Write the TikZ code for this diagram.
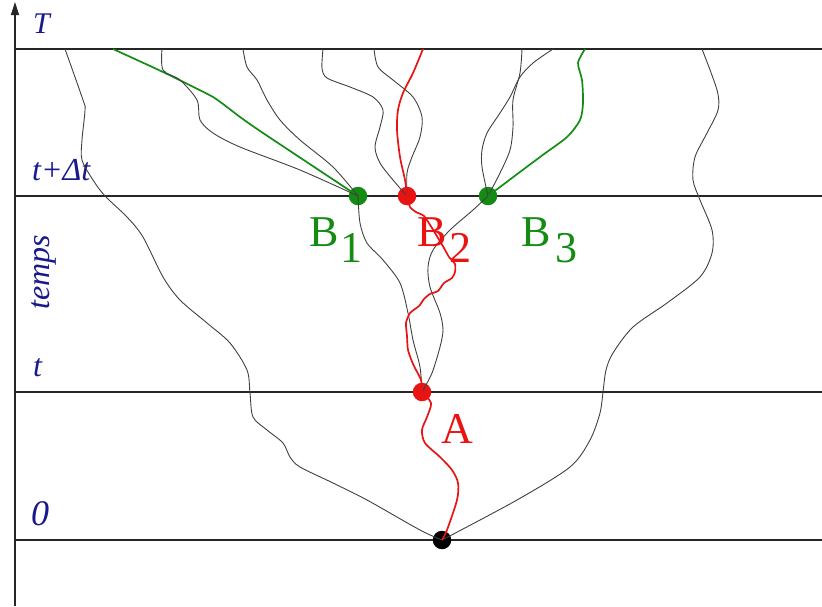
\documentclass[tikz,border=0pt]{standalone}
\usepackage{fontspec}
\setmainfont{Liberation Serif}
\usetikzlibrary{arrows.meta}
\definecolor{axblue}{RGB}{25,25,140}
\definecolor{dgreen}{RGB}{20,140,20}
\definecolor{dred}{RGB}{232,20,20}
\begin{document}
\begin{tikzpicture}[x=1pt,y=-1pt,
  level/.style={draw=black!85,line width=1.2pt},
  walk/.style={draw=black!75,line width=0.9pt},
  redwalk/.style={draw=dred,line width=1.7pt},
  greenwalk/.style={draw=dgreen,line width=1.7pt},
  dot/.style={circle,inner sep=0pt,minimum size=18.5pt},
  axlabel/.style={text=axblue,font=\fontsize{32}{36}\selectfont\itshape,inner sep=0pt,anchor=base west},
  ptlabel/.style={font=\fontsize{44}{50}\selectfont,inner sep=0pt,anchor=base west}]
\useasboundingbox (0,0) rectangle (822,606);

% axis
\coordinate (axB) at (15,606);
\coordinate (axT) at (15,2);
\draw[level,-{Triangle[length=13pt,width=8pt]}] (axB) -- (axT);

% levels
\foreach \yy/\nm in {49/LT,196/LD,392/Lt,540/LO}{
  \coordinate (\nm w) at (15,\yy);
  \coordinate (\nm e) at (822,\yy);
  \draw[level] (\nm w) -- (\nm e);
}

% axis labels
\node[axlabel,font=\fontsize{30}{34}\selectfont\itshape] (lT) at (33,33) {T};
\node[axlabel,font=\fontsize{32}{36}\selectfont\itshape] (lD) at (32,180) {t+Δt};
\node[axlabel,anchor=base,rotate=90] (ltemps) at (49,272) {temps};
\node[axlabel] (lt) at (33,376) {t};
\node[axlabel,font=\fontsize{36}{40}\selectfont\itshape] (l0) at (31,525) {0};

% points
\node[dot,fill=black] (O) at (442,540) {};
\node[dot,fill=dred] (A) at (422,392) {};
\node[dot,fill=dgreen] (B1) at (358,196) {};
\node[dot,fill=dred] (B2) at (407,196) {};
\node[dot,fill=dgreen] (B3) at (488,196) {};

% walks from O
\draw[walk] plot[smooth] coordinates {(O.center) (420,530) (367,500) (333,483) (300,467) (290,457) (283,443) (267,430) (253,417) (250,393) (247,370) (230,343) (207,323) (180,300) (163,277) (143,237) (127,217) (105,196) (93,180) (82,160) (82,140) (85,110) (83,100) (65,49)};
\draw[walk] plot[smooth] coordinates {(O.center) (517,500) (570,467) (590,440) (600,413) (603,392) (606,370) (613,353) (633,327) (667,303) (700,277) (712,253) (712,230) (700,200) (693,180) (695,157) (707,133) (718,110) (717,90) (702,49)};
\draw[redwalk] plot[smooth] coordinates {(O.center) (447,530) (457,500) (458,483) (452,470) (440,457) (425,443) (422,430) (427,417) (431,403) (A.center)};

% walks from A
\draw[walk] plot[smooth] coordinates {(A.center) (420,367) (413,340) (408,313) (400,283) (383,260) (367,243) (360,223) (B1.center)};
\draw[walk] plot[smooth] coordinates {(A.center) (432,373) (440,347) (443,330) (440,313) (430,287) (428,267) (433,250) (450,230) (473,210) (B3.center)};
\draw[redwalk] plot[smooth,tension=0.4] coordinates {(A.center) (421,380) (413,364) (408,350) (407,336) (406,323) (410,313) (419,306) (424,299) (430,294) (438,291) (444,283) (452,278) (455,272) (455,264) (449,257) (444,248) (438,238) (432,228) (424,216) (416,212) (410,207) (B2.center)};

% walks from B1
\draw[greenwalk] plot[smooth,tension=0.3] coordinates {(B1.center) (263,133) (240,117) (213,97) (163,72) (113,49)};
\draw[walk] plot[smooth] coordinates {(B1.center) (300,170) (240,147) (213,133) (200,120) (197,100) (180,80) (163,70) (162,49)};
\draw[walk] plot[smooth] coordinates {(B1.center) (333,167) (300,140) (280,120) (267,100) (257,80) (247,67) (243,49)};

% walks from B2
\draw[walk] plot[smooth] coordinates {(B2.center) (393,180) (380,163) (375,147) (380,127) (383,110) (373,97) (350,87) (327,78) (322,68) (323,49)};
\draw[walk] plot[smooth] coordinates {(B2.center) (407,173) (412,157) (420,137) (422,117) (413,97) (393,80) (378,67) (374,49)};
\draw[redwalk] plot[smooth] coordinates {(B2.center) (405,180) (400,157) (397,130) (398,110) (403,93) (413,73) (423,49)};

% walks from B3
\draw[walk] plot[smooth] coordinates {(B3.center) (500,173) (510,150) (513,127) (513,100) (520,73) (522,49)};
\draw[walk] plot[smooth] coordinates {(B3.center) (482,167) (482,150) (487,133) (500,113) (510,97) (520,77) (533,63) (553,49)};
\draw[greenwalk] plot[smooth,tension=0.45] coordinates {(B3.center) (540,157) (567,137) (580,120) (583,103) (582,80) (578,63) (585,49)};

% point labels
\node[ptlabel,text=dgreen] (tB1) at (309,246) {B\kern2pt\raisebox{-16pt}{1}};
\node[ptlabel,text=dred] (tB2) at (417,246) {B\kern3pt\raisebox{-16pt}{2}};
\node[ptlabel,text=dgreen] (tB3) at (521,246) {B\kern5pt\raisebox{-16pt}{3}};
\node[ptlabel,text=dred] (tA) at (441,443) {A};
\end{tikzpicture}
\end{document}
